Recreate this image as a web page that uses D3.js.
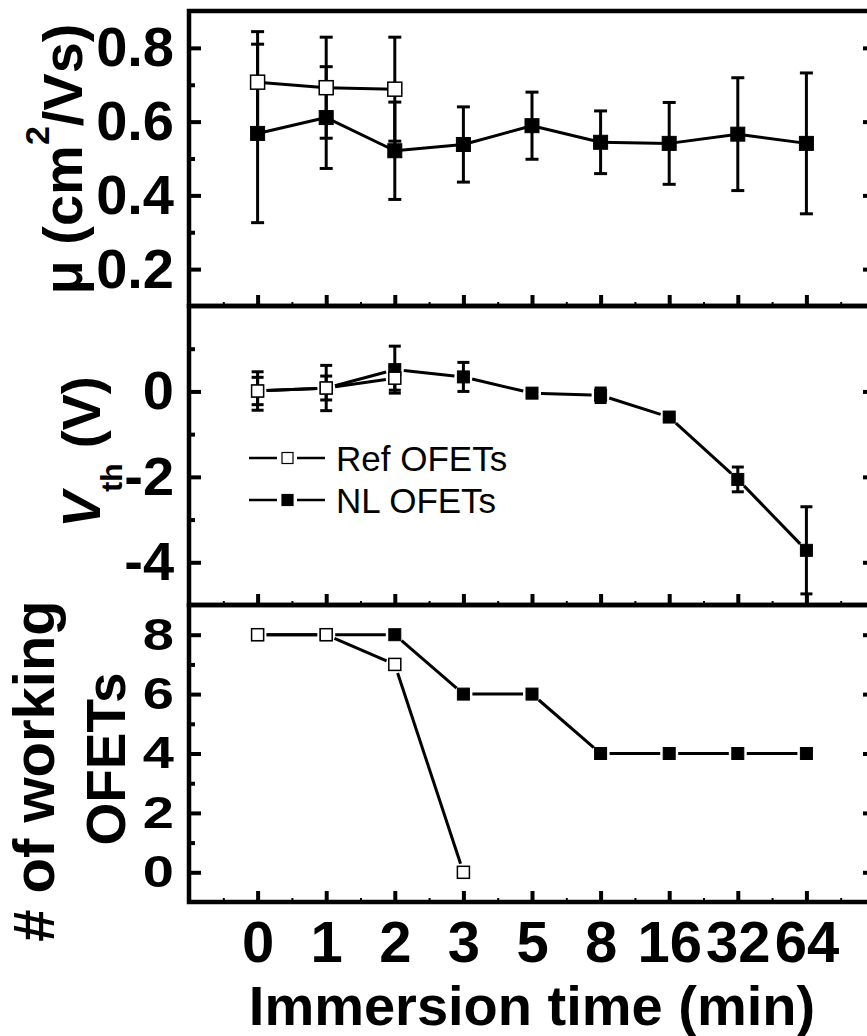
<!DOCTYPE html>
<html>
<head>
<meta charset="utf-8">
<script src="https://cdn.jsdelivr.net/npm/d3@7"></script>
<style>
  body { margin: 0; background: #fff; }
  text { font-family: "Liberation Sans", Arial, sans-serif; }
</style>
</head>
<body>
<div id="chart"></div>
<script>
// immersion time categories (x axis, evenly spaced)
const categories = ["0", "1", "2", "3", "5", "8", "16", "32", "64"];

// mobility (cm2/Vs)
const mobilityRef = [0.707, 0.692, 0.688];
const mobilityRefErr = [0.137, 0.137, 0.141];
const mobilityNL = [0.568, 0.611, 0.521, 0.538, 0.589, 0.544, 0.541, 0.566, 0.541];
const mobilityNLErr = [0.242, 0.138, 0.132, 0.102, 0.091, 0.085, 0.111, 0.153, 0.191];

// threshold voltage (V)
const vthRef = [0.01, 0.08, 0.31];
const vthRefErr = [0.32, 0.28, 0.28];
const vthNL = [0.01, 0.08, 0.51, 0.34, -0.04, -0.09, -0.6, -2.06, -3.72];
const vthNLErr = [0.45, 0.53, 0.55, 0.34, 0.08, 0.17, 0.06, 0.29, 1.02];

// number of working devices
const countRef = [8, 8, 7, 0];
const countNL = [8, 8, 8, 6, 6, 4, 4, 4, 4];

// tick values
const muTicks = [0.2, 0.4, 0.6, 0.8];
const muMinor = [0.3, 0.5, 0.7];
const vthTicks = [-4, -2, 0];
const vthMinor = [-3, -1, 1];
const countTicks = [0, 2, 4, 6, 8];
const countMinor = [1, 3, 5, 7];

const width = 867;
const height = 1036;
const left = 189;
const right = 875;

const svg = d3.select("#chart")
    .append("svg")
    .attr("width", width)
    .attr("height", height);

const x = d3.scaleLinear().domain([-1, 9]).range([left, right]);
const idx = d3.range(categories.length);

// plain hyphen for negatives, like the original
const intFmt = d => String(d);

// the three stacked panels share the x scale
const panels = [
    {top: 11, bottom: 306, domain: [0.1, 0.9], ticks: muTicks, minor: muMinor, fmt: d3.format(".1f"), textScale: 1,
     ref: mobilityRef, refErr: mobilityRefErr, nl: mobilityNL, nlErr: mobilityNLErr, size: 14, cap: 13, trim: 0},
    {top: 306, bottom: 605, domain: [-5, 2], ticks: vthTicks, minor: vthMinor, fmt: intFmt, textScale: 0.96,
     ref: vthRef, refErr: vthRefErr, nl: vthNL, nlErr: vthNLErr, size: 12, cap: 12, trim: 9},
    {top: 605, bottom: 902, domain: [-1, 9], ticks: countTicks, minor: countMinor, fmt: intFmt, textScale: 0.8,
     ref: countRef, refErr: null, nl: countNL, nlErr: null, size: 12, cap: 12, trim: 9}
];

panels.forEach((p, k) => {
    const y = d3.scaleLinear().domain(p.domain).range([p.bottom, p.top]);
    const g = svg.append("g");

    // left axis, ticks pointing inward
    const la = g.append("g").attr("transform", `translate(${left},0)`)
        .call(d3.axisLeft(y).tickValues(p.ticks).tickSize(-12).tickPadding(15).tickFormat(p.fmt));
    la.select(".domain").remove();
    la.selectAll("line").attr("stroke-width", 4);
    la.selectAll("text")
        .attr("font-size", 56).attr("font-weight", "bold")
        .attr("transform", `scale(1,${p.textScale})`);
    g.append("g").attr("transform", `translate(${left},0)`)
        .call(d3.axisLeft(y).tickValues(p.minor).tickSize(-6).tickFormat(""))
        .call(a => a.select(".domain").remove())
        .selectAll("line").attr("stroke-width", 4);

    // right axis (mostly off the page)
    g.append("g").attr("transform", `translate(${right},0)`)
        .call(d3.axisRight(y).tickValues(p.ticks).tickSize(-12).tickFormat(""))
        .call(a => a.select(".domain").remove())
        .selectAll("line").attr("stroke-width", 4);

    // bottom x ticks
    const ba = g.append("g").attr("transform", `translate(0,${p.bottom})`)
        .call(d3.axisBottom(x).tickValues(idx).tickSize(-11).tickPadding(19)
            .tickFormat(i => k === 2 ? categories[i] : ""));
    ba.select(".domain").remove();
    ba.selectAll("line").attr("stroke-width", 4);
    ba.selectAll("text").attr("font-size", 58).attr("font-weight", "bold");
    g.append("g").attr("transform", `translate(0,${p.bottom})`)
        .call(d3.axisBottom(x).tickValues(idx.map(i => i - 0.5).concat([8.5])).tickSize(-4).tickFormat(""))
        .call(a => a.select(".domain").remove())
        .selectAll("line").attr("stroke-width", 2);

    // frame
    g.append("rect")
        .attr("x", left).attr("y", p.top)
        .attr("width", right - left).attr("height", p.bottom - p.top)
        .attr("fill", "none").attr("stroke", "#000").attr("stroke-width", 4.5);

    // draw NL first, Ref on top
    drawSeries(g, y, p.nl, p.nlErr, true, p);
    drawSeries(g, y, p.ref, p.refErr, false, p);
});

function drawSeries(g, y, vals, errs, filled, p) {
    const s = g.append("g");
    if (errs) {
        vals.forEach((v, i) => {
            const e = errs[i];
            s.append("line")
                .attr("x1", x(i)).attr("x2", x(i))
                .attr("y1", y(v - e)).attr("y2", y(v + e))
                .attr("stroke", "#000").attr("stroke-width", 3);
            [v - e, v + e].forEach(c => {
                s.append("line")
                    .attr("x1", x(i) - p.cap / 2).attr("x2", x(i) + p.cap / 2)
                    .attr("y1", y(c)).attr("y2", y(c))
                    .attr("stroke", "#000").attr("stroke-width", 3);
            });
        });
    }
    // connecting segments, trimmed so they stop short of the markers
    for (let i = 0; i < vals.length - 1; i++) {
        const x0 = x(i), y0 = y(vals[i]), x1 = x(i + 1), y1 = y(vals[i + 1]);
        const len = Math.hypot(x1 - x0, y1 - y0);
        const ux = (x1 - x0) / len, uy = (y1 - y0) / len;
        s.append("line")
            .attr("x1", x0 + ux * p.trim).attr("y1", y0 + uy * p.trim)
            .attr("x2", x1 - ux * p.trim).attr("y2", y1 - uy * p.trim)
            .attr("stroke", "#000").attr("stroke-width", 3);
    }
    s.selectAll("rect.pt").data(vals).join("rect")
        .attr("class", "pt")
        .attr("x", (d, i) => x(i) - p.size / 2)
        .attr("y", d => y(d) - p.size / 2)
        .attr("width", p.size).attr("height", p.size)
        .attr("fill", filled ? "#000" : "#fff")
        .attr("stroke", "#000").attr("stroke-width", filled ? 1 : 1.5);
}

// legend in the middle panel
const legendItems = [{name: "Ref OFETs", filled: false}, {name: "NL OFETs", filled: true}];
const lg = svg.append("g");
legendItems.forEach((it, i) => {
    const ly = 458 + i * 42;
    lg.append("line").attr("x1", 249).attr("x2", 277).attr("y1", ly).attr("y2", ly)
        .attr("stroke", "#000").attr("stroke-width", 2.5);
    lg.append("line").attr("x1", 297).attr("x2", 325).attr("y1", ly).attr("y2", ly)
        .attr("stroke", "#000").attr("stroke-width", 2.5);
    lg.append("rect").attr("x", 282).attr("y", ly - 5.5).attr("width", 11).attr("height", 11)
        .attr("fill", it.filled ? "#000" : "#fff").attr("stroke", "#000").attr("stroke-width", 1.2);
    lg.append("text").attr("x", 336).attr("y", ly + 13)
        .attr("font-size", 35).text(it.name);
});

// axis titles
svg.append("text")
    .attr("transform", "translate(82,159) rotate(-90)")
    .attr("text-anchor", "middle").attr("font-size", 56).attr("font-weight", "bold")
    .call(t => {
        t.append("tspan").text("μ (cm");
        t.append("tspan").attr("dy", -33).attr("font-size", 34).text("2");
        t.append("tspan").attr("dy", 33).text("/Vs)");
    });

svg.append("text")
    .attr("transform", "translate(100,452) rotate(-90)")
    .attr("text-anchor", "middle").attr("font-size", 54).attr("font-weight", "bold")
    .call(t => {
        t.append("tspan").attr("font-style", "italic").text("V");
        t.append("tspan").attr("dy", 22).attr("font-size", 30).text("th");
        t.append("tspan").attr("dy", -22).text(" (V)");
    });

svg.append("text")
    .attr("transform", "translate(54,771) rotate(-90)")
    .attr("text-anchor", "middle").attr("font-size", 58).attr("font-weight", "bold")
    .text("# of working");
svg.append("text")
    .attr("transform", "translate(125,759) rotate(-90)")
    .attr("text-anchor", "middle").attr("font-size", 55).attr("font-weight", "bold")
    .text("OFETs");

svg.append("text")
    .attr("x", (left + right) / 2).attr("y", 1025)
    .attr("text-anchor", "middle").attr("font-size", 56).attr("font-weight", "bold")
    .text("Immersion time (min)");
</script>
</body>
</html>
